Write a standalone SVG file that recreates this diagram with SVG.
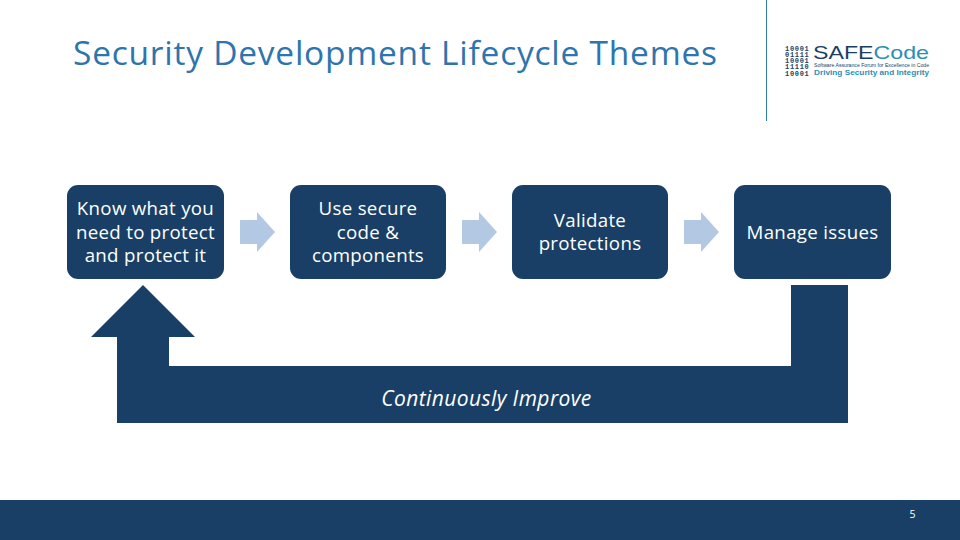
<svg xmlns="http://www.w3.org/2000/svg" width="960" height="540" viewBox="0 0 960 540">
<style>
text{font-family:"Open Sans","Noto Sans",sans-serif}
.n rect{fill:#1a3f66}
.n text{fill:#fff;font-size:18.7px;text-anchor:middle;letter-spacing:.3px}
.a{fill:#b3c9e3}
.b{font-family:"Liberation Mono",monospace;font-weight:700;font-size:7px;fill:#1a3f66;letter-spacing:.7px}
.s{font-family:"Liberation Sans",sans-serif}
</style>
<rect width="960" height="540" fill="#fff"/>
<text x="73" y="65" font-size="33.5" letter-spacing=".76" fill="#2e75ad">Security Development Lifecycle Themes</text>
<line x1="766.500" y1="0" x2="766.500" y2="121" stroke="#2e7fa5" stroke-width="1"/>
<g id="logo">
<text class="b" x="785" y="50.500">10001</text>
<text class="b" x="785" y="56.800">01111</text>
<text class="b" x="785" y="63">10001</text>
<text class="b" x="785" y="69.200">11110</text>
<text class="b" x="785" y="75.500">10001</text>
<text class="s" x="813" y="59" font-size="19" textLength="116" lengthAdjust="spacingAndGlyphs" fill="#1a3f66">SAFE<tspan fill="#2c8fb5">Code</tspan></text>
<text class="s" x="814" y="67.300" font-size="4.800" textLength="115" lengthAdjust="spacingAndGlyphs" fill="#1a3f66">Software Assurance Forum for Excellence in Code</text>
<text class="s" x="814" y="75.300" font-size="8" font-weight="700" textLength="115" lengthAdjust="spacingAndGlyphs" fill="#2c8fb5">Driving Security and Integrity</text>
</g>
<g id="connectors">
<path class="a" d="M240 220H257V212L275 232L257 252V244H240Z"/>
<path class="a" d="M462 220H479V212L497 232L479 252V244H462Z"/>
<path class="a" d="M684 220H701V212L719 232L701 252V244H684Z"/>
</g>
<g id="node1" class="n"><rect x="67" y="185" width="157" height="94" rx="11"/><text x="145.500" y="214.500">Know what you</text><text x="145.500" y="238.500">need to protect</text><text x="145.500" y="261.500">and protect it</text></g>
<g id="node2" class="n"><rect x="290" y="185" width="156" height="94" rx="11"/><text x="368" y="214.500">Use secure</text><text x="368" y="238.500">code &amp;</text><text x="368" y="261.500">components</text></g>
<g id="node3" class="n"><rect x="512" y="185" width="156" height="94" rx="11"/><text x="590" y="226.500">Validate</text><text x="590" y="249.500">protections</text></g>
<g id="node4" class="n"><rect x="734" y="185" width="157" height="94" rx="11"/><text x="812.500" y="238.500">Manage issues</text></g>
<g id="improve"><path fill="#1a3f66" d="M143 285L195 337H169V366H791V285H848V423H117V337H91Z"/>
<text x="486.500" y="405.500" fill="#fff" font-size="21" font-style="italic" letter-spacing=".4" text-anchor="middle">Continuously Improve</text></g>
<rect y="500" width="960" height="40" fill="#1a3f66"/>
<text x="912.500" y="518" fill="#fff" font-size="10.500" text-anchor="middle">5</text>
</svg>
